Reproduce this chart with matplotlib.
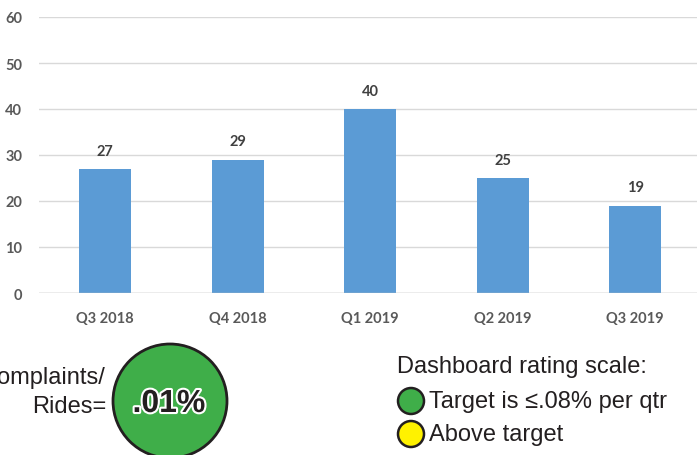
import matplotlib
matplotlib.use("Agg")
import matplotlib.pyplot as plt
from matplotlib.patches import Circle
import matplotlib.patheffects as pe

categories = ["Q3 2018", "Q4 2018", "Q1 2019", "Q2 2019", "Q3 2019"]
complaints = [27, 29, 40, 25, 19]
yticks = [0, 10, 20, 30, 40, 50, 60]
rate_text = ".01%"

W, H = 697, 456
fig = plt.figure(figsize=(W / 100, H / 100), dpi=100)

x0, x1 = 39, 701.5
y0, y1 = 294, 18
ax = fig.add_axes([x0 / W, 1 - y0 / H, (x1 - x0) / W, (y0 - y1) / H])
xs = list(range(len(categories)))
bars = ax.bar(xs, complaints, width=0.39, color="#5B9BD5", zorder=3)
ax.set_xlim(-0.5, len(categories) - 0.5)
ax.set_ylim(0, 60)
ax.set_yticks(yticks)
ax.set_xticks(xs)
ax.set_xticklabels(categories)
for s in ax.spines.values():
    s.set_visible(False)
ax.grid(axis="y", color="#D9D9D9", linewidth=1, zorder=0)
ax.axhline(0, color="#BFBFBF", linewidth=1, zorder=4)
ax.tick_params(length=0, labelsize=10.5, labelcolor="#595959")
ax.tick_params(axis="y", pad=12)
ax.tick_params(axis="x", pad=13)
for lab in ax.get_xticklabels() + ax.get_yticklabels():
    lab.set_fontfamily("Lato")
    lab.set_fontweight("bold")
for xi, v in zip(xs, complaints):
    ax.annotate(str(v), (xi, v), xytext=(0, 8), textcoords="offset points",
                ha="center", va="bottom", fontsize=10.5, fontweight="bold",
                color="#404040", family="Lato")

# bottom annotations in pixel coordinates
ov = fig.add_axes([0, 0, 1, 1], zorder=10)
ov.set_xlim(0, W)
ov.set_ylim(H, 0)
ov.axis("off")
ov.patch.set_alpha(0)

ov.add_patch(Circle((170, 402), 57, facecolor="#3FAE49", edgecolor="#231F20", linewidth=2))
ov.text(169, 405, rate_text, ha="center", va="center", fontsize=23, fontweight="bold",
        color="#231F20", family="Liberation Sans",
        path_effects=[pe.withStroke(linewidth=3, foreground="white")])
ov.text(106, 378, "Complaints/", ha="right", va="center", fontsize=17,
        color="#231F20", family="Liberation Sans")
ov.text(106, 407, "Rides=", ha="right", va="center", fontsize=17,
        color="#231F20", family="Liberation Sans")

ov.text(397, 367, "Dashboard rating scale:", ha="left", va="center", fontsize=17,
        color="#231F20", family="Liberation Sans")
ov.add_patch(Circle((411, 402), 13, facecolor="#3FAE49", edgecolor="#231F20", linewidth=1.8))
ov.add_patch(Circle((411, 435), 13, facecolor="#FFF200", edgecolor="#231F20", linewidth=1.8))
ov.text(429, 402, "Target is \u2264.08% per qtr", ha="left", va="center", fontsize=17,
        color="#231F20", family="Liberation Sans")
ov.text(429, 435, "Above target", ha="left", va="center", fontsize=17,
        color="#231F20", family="Liberation Sans")

fig.savefig("out.png", dpi=100)
